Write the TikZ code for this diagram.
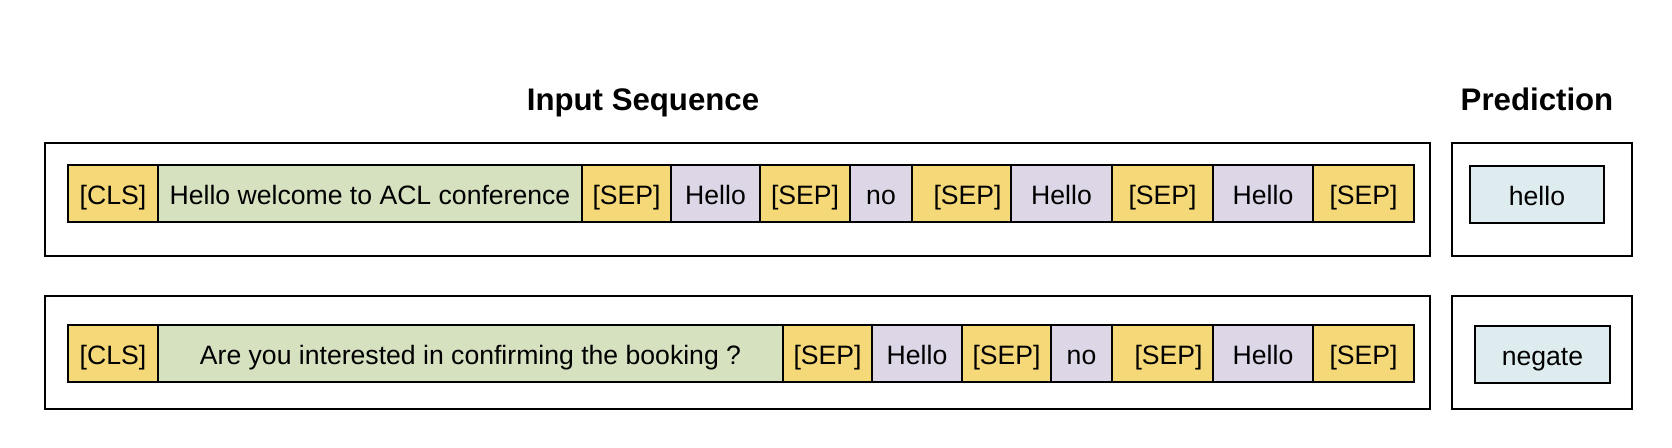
\documentclass[tikz,border=0pt]{standalone}
\usepackage{fontspec}
\setmainfont{Liberation Sans}
\definecolor{tokyellow}{RGB}{245,216,120}
\definecolor{tokgreen}{RGB}{214,225,192}
\definecolor{tokpurple}{RGB}{220,214,230}
\definecolor{tokblue}{RGB}{222,236,240}
\tikzset{
  tokbase/.style={draw=black, line width=1pt, inner sep=0pt, outer sep=0pt, font=\fontsize{13.3}{15}\selectfont, text=black, text height=11pt, text depth=0pt},
  framebox/.style={draw=black, line width=1pt, inner sep=0pt, outer sep=0pt},
  titletext/.style={font=\bfseries\fontsize{15.6}{18}\selectfont, anchor=base, inner sep=0pt},
}
% \tok{name}{x1}{x2}{y1}{y2}{colour}{text}
\newcommand{\tok}[7]{%
  \node[tokbase, fill=#6, minimum width={(#3-#2)*0.5pt}, minimum height={(#5-#4)*0.5pt}] (#1) at ({(#2+#3)/2},{(#4+#5)/2}) {#7};}
\newcommand{\frm}[5]{%
  \node[framebox, minimum width={(#3-#2)*0.5pt}, minimum height={(#5-#4)*0.5pt}] (#1) at ({(#2+#3)/2},{(#4+#5)/2}) {};}
\begin{document}
\begin{tikzpicture}[x=0.5pt,y=-0.5pt]
\useasboundingbox (0,0) rectangle (1672,448);
% titles
\node[titletext] (t1) at (643,111) {Input Sequence};
\node[titletext] (t2) at (1537,111) {Prediction};
% outer frames
\frm{f1}{45}{1430}{143}{256.5}
\frm{p1}{1452}{1632}{143}{256.5}
\frm{f2}{45}{1430}{296}{409}
\frm{p2}{1452}{1632}{296}{409}
% row 1
\tok{a1}{68}{158}{165}{222.5}{tokyellow}{[CLS]}
\tok{a2}{158}{582}{165}{222.5}{tokgreen}{Hello welcome to ACL conference}
\tok{a3}{582}{671}{165}{222.5}{tokyellow}{[SEP]}
\tok{a4}{671}{760}{165}{222.5}{tokpurple}{Hello}
\tok{a5}{760}{850}{165}{222.5}{tokyellow}{[SEP]}
\tok{a6}{850}{912}{165}{222.5}{tokpurple}{no}
\tok{a7}{912}{1011}{165}{222.5}{tokyellow}{\hspace*{6pt}[SEP]}
\tok{a8}{1011}{1112}{165}{222.5}{tokpurple}{Hello}
\tok{a9}{1112}{1213}{165}{222.5}{tokyellow}{[SEP]}
\tok{a10}{1213}{1313}{165}{222.5}{tokpurple}{Hello}
\tok{a11}{1313}{1414}{165}{222.5}{tokyellow}{[SEP]}
\tok{h1}{1470}{1604}{166.5}{223}{tokblue}{hello}
% row 2
\tok{b1}{68}{158}{325}{382}{tokyellow}{[CLS]}
\tok{b2}{158}{783}{325}{382}{tokgreen}{Are you interested in confirming the booking ?}
\tok{b3}{783}{872}{325}{382}{tokyellow}{[SEP]}
\tok{b4}{872}{962}{325}{382}{tokpurple}{Hello}
\tok{b5}{962}{1051}{325}{382}{tokyellow}{[SEP]}
\tok{b6}{1051}{1112}{325}{382}{tokpurple}{no}
\tok{b7}{1112}{1213}{325}{382}{tokyellow}{\hspace*{6pt}[SEP]}
\tok{b8}{1213}{1313}{325}{382}{tokpurple}{Hello}
\tok{b9}{1313}{1414}{325}{382}{tokyellow}{[SEP]}
\tok{h2}{1475}{1610}{326}{383}{tokblue}{negate}
\end{tikzpicture}
\end{document}
